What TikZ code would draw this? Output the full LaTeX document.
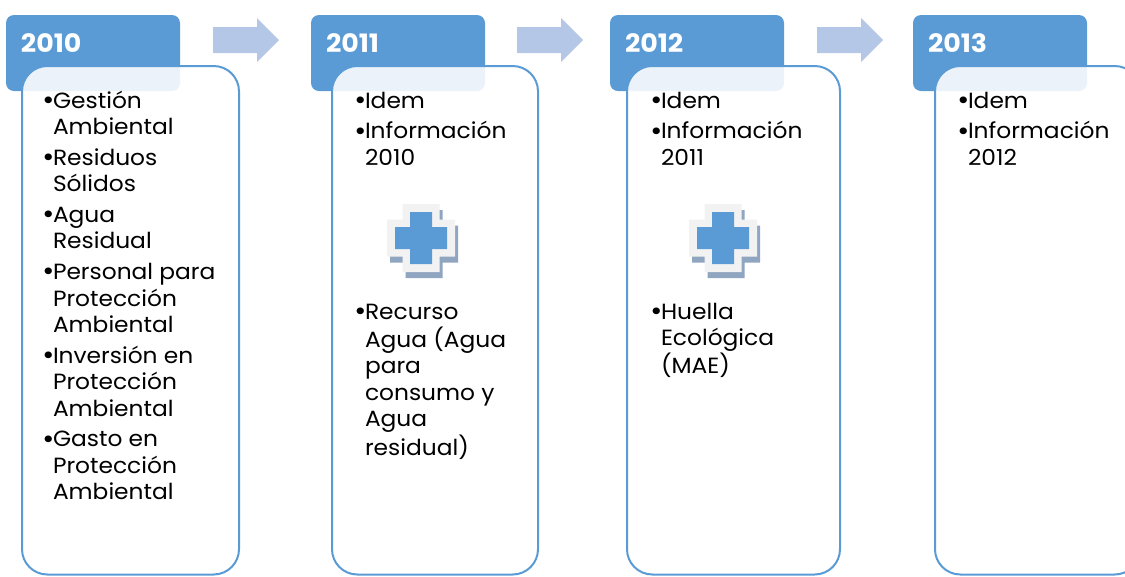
\documentclass[tikz,border=0pt]{standalone}
\usepackage{fontspec}
\setmainfont{Poppins}[FakeStretch=1.06]
\usepackage{xcolor}
\usepackage{graphicx}
\usetikzlibrary{fit}
\definecolor{headblue}{HTML}{5B9BD5}
\definecolor{arrowblue}{HTML}{B4C7E7}
\definecolor{plusgrey}{HTML}{F2F2F2}
\definecolor{plusshade}{HTML}{8FA5C0}
\newcommand{\bul}{\makebox[6.75pt][l]{\hspace*{-1.3pt}\raisebox{-0.06em}{\scalebox{1.25}{\textbullet}}}}
% plus sign: half arm width #1, half extent #2
\newcommand{\pluspath}[2]{(-#1,-#2) -- (#1,-#2) -- (#1,-#1) -- (#2,-#1) -- (#2,#1) -- (#1,#1) -- (#1,#2) -- (-#1,#2) -- (-#1,#1) -- (-#2,#1) -- (-#2,-#1) -- (-#1,-#1) -- cycle}

\begin{document}
\begin{tikzpicture}[x=0.75pt,y=-0.75pt,
    every node/.style={inner sep=0pt,outer sep=0pt},
    head/.style={fill=headblue,rounded corners=6pt},
    card/.style={draw=headblue,line width=1.5pt,fill=white,fill opacity=0.88,rounded corners=19pt},
    year/.style={text=white,font=\fontsize{19}{21}\selectfont\bfseries,anchor=base west},
    items/.style={anchor=base west,font=\fontsize{16.5}{19.8}\selectfont},
    arrowshape/.style={fill=arrowblue}]

    \useasboundingbox (0,0) rectangle (1125,576);
    \clip (0,0) rectangle (1125,576);

    \foreach \hx/\cx/\cr/\yr [count=\i] in {6/22/239/2010, 311/332/538/2011, 610/627/840/2012, 913/935/1140/2013} {
        \node[head, fit={(\hx,15) (\hx+174,91)}] (head\i) {};
        \node[card, fit={(\cx,66) (\cr,574.5)}] (card\i) {};
        \node[year] (year\i) at (\hx+15,52) {\yr};
    }

    \foreach \ax in {213,517,817}
        \fill[arrowshape] (\ax,27) -- (\ax+44,27) -- (\ax+44,18) -- (\ax+66,40) -- (\ax+44,62) -- (\ax+44,53) -- (\ax,53) -- cycle;

    \foreach \px in {421,723} {
        \begin{scope}[shift={(\px,238)}]
            \fill[plusshade] [shift={(3,6)}] \pluspath{18.5}{34};
            \fill[plusgrey] \pluspath{18.5}{34};
            \fill[headblue] \pluspath{11}{26};
        \end{scope}
    }

    \node[items] (list1) at (44,108) {\begin{tabular}[t]{@{}l@{}l@{}}
        \bul & Gestión \\ & Ambiental \\[3.3pt]
        \bul & Residuos \\ & Sólidos \\[3.3pt]
        \bul & Agua \\ & Residual \\[3.3pt]
        \bul & Personal para \\ & Protección \\ & Ambiental \\[3.3pt]
        \bul & Inversión en \\ & Protección \\ & Ambiental \\[3.3pt]
        \bul & Gasto en \\ & Protección \\ & Ambiental
    \end{tabular}};

    \node[items] (list2) at (356,108) {\begin{tabular}[t]{@{}l@{}l@{}}
        \bul & Idem \\[3.3pt]
        \bul & Información \\ & 2010
    \end{tabular}};
    \node[items] (more2) at (356,319) {\begin{tabular}[t]{@{}l@{}l@{}}
        \bul & Recurso \\ & Agua (Agua \\ & para \\ & consumo y \\ & Agua \\ & residual)
    \end{tabular}};

    \node[items] (list3) at (652,108) {\begin{tabular}[t]{@{}l@{}l@{}}
        \bul & Idem \\[3.3pt]
        \bul & Información \\ & 2011
    \end{tabular}};
    \node[items] (more3) at (652,319) {\begin{tabular}[t]{@{}l@{}l@{}}
        \bul & Huella \\ & Ecológica \\ & (MAE)
    \end{tabular}};

    \node[items] (list4) at (959,108) {\begin{tabular}[t]{@{}l@{}l@{}}
        \bul & Idem \\[3.3pt]
        \bul & Información \\ & 2012
    \end{tabular}};

\end{tikzpicture}
\end{document}
